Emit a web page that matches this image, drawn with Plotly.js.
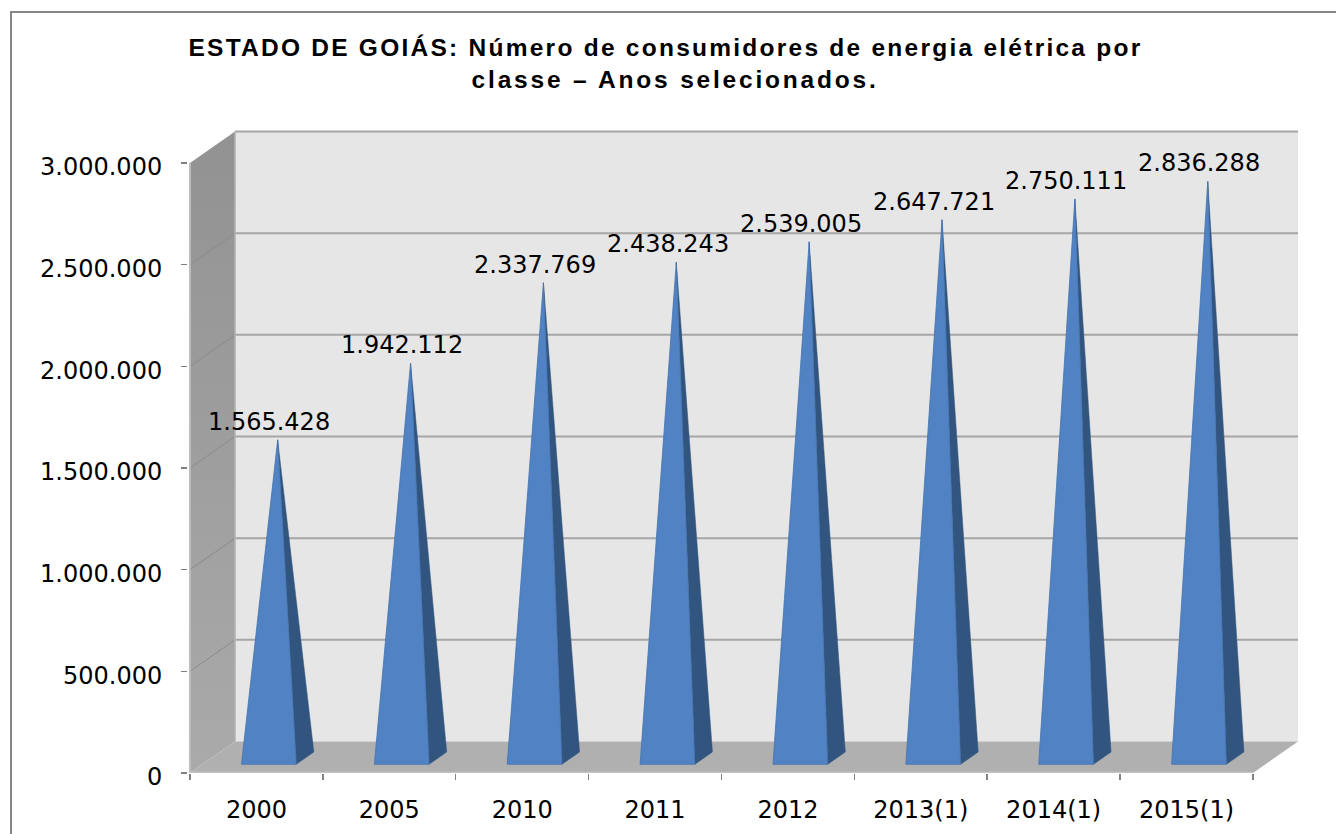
<!DOCTYPE html>
<html><head><meta charset="utf-8">
<script src="https://cdn.plot.ly/plotly-3.0.1.min.js"></script>
<style>html,body{margin:0;padding:0;background:#fff;overflow:hidden}#c{width:1336px;height:834px}</style>
</head><body><div id="c"></div>
<script>
const categories = ['2000','2005','2010','2011','2012','2013(1)','2014(1)','2015(1)'];
const values = [1565428,1942112,2337769,2438243,2539005,2647721,2750111,2836288];
const valueLabels = ['1.565.428','1.942.112','2.337.769','2.438.243','2.539.005','2.647.721','2.750.111','2.836.288'];
const yTicks = [0,500000,1000000,1500000,2000000,2500000,3000000];
const yTickLabels = ['0','500.000','1.000.000','1.500.000','2.000.000','2.500.000','3.000.000'];
const titleLine1 = 'ESTADO DE GOIÁS: Número de consumidores de energia elétrica por';
const titleLine2 = 'classe – Anos selecionados.';

const W=1336,H=834,L=188,R=1298,T=130,B=773;
const DX=0.339, DY=155000, HALF=0.206, DF=0.276, DB=0.667, DM=(DF+DB)/2;
const n=categories.length;

const walls=[];
const poly=(xs,ys,fill,extra)=>Object.assign({x:xs,y:ys,mode:'lines',fill:'toself',fillcolor:fill,line:{width:0},hoverinfo:'skip',showlegend:false},extra||{});
walls.push(poly([DX,n+DX,n+DX,DX,DX],[DY,DY,3000000+DY,3000000+DY,DY],'#e6e6e6'));
walls.push(poly([0,DX,DX,0,0],[0,DY,3000000+DY,3000000,0],'#949494',{fillgradient:{type:'vertical',colorscale:[[0,'#aaaaaa'],[1,'#929292']]}}));
walls.push(poly([0,n,n+DX,DX,0],[0,0,DY,DY,0],'#b0b0b0'));
const diagonals=yTicks.slice(1,-1).map(v=>({x:[0,DX],y:[v,v+DY],mode:'lines',
  line:{color:'#8a8a8a',width:1},hoverinfo:'skip',showlegend:false}));
const gridLines=yTicks.slice(1).map(v=>({x:[DX,n+DX],y:[v+DY,v+DY],mode:'lines',
  line:{color:'#a6a6a6',width:2},hoverinfo:'skip',showlegend:false}));
const edges=[
 {x:[0,0],y:[0,3000000],mode:'lines',line:{color:'#bdbdbd',width:2},hoverinfo:'skip',showlegend:false},
 {x:[DX,DX],y:[DY,3000000+DY],mode:'lines',line:{color:'#b4b4b4',width:1.5},hoverinfo:'skip',showlegend:false},
 {x:[0,n],y:[0,0],mode:'lines',line:{color:'#c4c4c4',width:2.5},hoverinfo:'skip',showlegend:false}
];
const pyr=[];
const anns=[];
values.forEach((v,i)=>{
  const c=i+0.5;
  const fl=[c-HALF+DF*DX, DF*DY], fr=[c+HALF+DF*DX, DF*DY], br=[c+HALF+DB*DX, DB*DY];
  const ax=c+DM*DX, ay=v+DM*DY;
  pyr.push(poly([fr[0],br[0],ax,fr[0]],[fr[1],br[1],ay,fr[1]],'#31557f',{line:{color:'#31557f',width:0.5}}));
  pyr.push(poly([fl[0],fr[0],ax,fl[0]],[fl[1],fr[1],ay,fl[1]],'#5082c4',{line:{color:'#4573ad',width:0.8}}));
  anns.push({x:ax,y:ay,xref:'x',yref:'y',text:valueLabels[i],showarrow:false,xanchor:'center',yanchor:'middle',
    xshift:-8.5,yshift:18,font:{family:'DejaVu Sans',size:24,color:'#000'}});
});

const layout={
  width:W,height:H,autosize:false,
  margin:{l:L,r:W-R,t:T,b:H-B,pad:0},
  paper_bgcolor:'#fff',plot_bgcolor:'rgba(0,0,0,0)',showlegend:false,
  title:{text:'<b><span style="letter-spacing:2.25px">'+titleLine1+'</span><br><span style="letter-spacing:2.8px">&nbsp;&nbsp;'+titleLine2+'</span></b>',
    x:665.5/W,xref:'container',xanchor:'center',y:1-56/H,yref:'container',yanchor:'top',
    font:{family:'Liberation Sans',size:24.5,color:'#000'}},
  xaxis:{range:[-0.015,n+DX],tickmode:'array',tickvals:categories.map((_,i)=>i+0.5),ticktext:categories,ticks:'',
    minor:{tickmode:'array',tickvals:Array.from({length:n+1},(_,i)=>i),ticks:'outside',ticklen:6,tickcolor:'#808080',tickwidth:1.5,showgrid:false},
    showgrid:false,zeroline:false,showline:false,tickfont:{family:'DejaVu Sans',size:24,color:'#000'},automargin:false,ticklabelstandoff:20},
  yaxis:{range:[0,(B-T)/610*3000000],tickmode:'array',tickvals:yTicks,ticktext:yTickLabels,ticks:'outside',ticklen:6,tickcolor:'#808080',tickwidth:1.5,
    showgrid:false,zeroline:false,showline:false,tickfont:{family:'DejaVu Sans',size:24,color:'#000'},automargin:false,ticklabelstandoff:14,ticklabelshift:4},
  annotations:anns,
  shapes:[{type:'rect',xref:'paper',yref:'paper',x0:(11-L)/(R-L),x1:(1350-L)/(R-L),y0:(B-860)/(B-T),y1:(B-12)/(B-T),
    line:{color:'#878787',width:2},fillcolor:'rgba(0,0,0,0)',layer:'below'}]
};
Plotly.newPlot('c',[...walls,...diagonals,...gridLines,...edges,...pyr],layout,{displayModeBar:false,staticPlot:true});
</script></body></html>
